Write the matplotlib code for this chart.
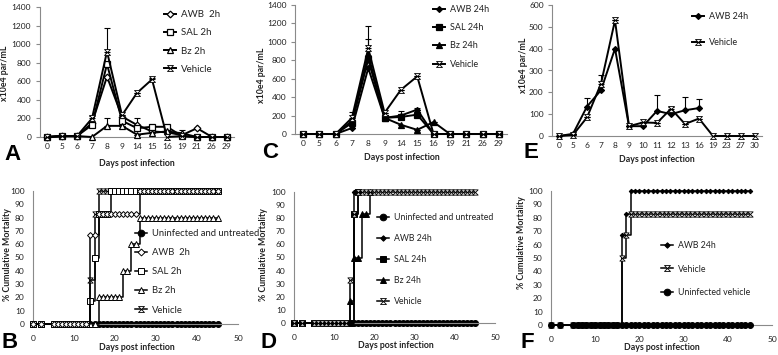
import numpy as np
import matplotlib
matplotlib.use('Agg')
import matplotlib.pyplot as plt
from matplotlib.lines import Line2D
from matplotlib.path import Path

W, H = 778, 355
plt.rcParams['font.family'] = ['Lato', 'DejaVu Sans']

# ---------------- data ----------------
cats_AC = ['0', '5', '6', '7', '8', '9', '14', '15', '16', '19', '21', '26', '29']
awb2h_A = [0, 10, 10, 150, 650, 220, 130, 60, 50, 20, 95, 0, 0]
awb2h_A_err = [0, 0, 0, 0, 0, 0, 70, 0, 0, 0, 0, 0, 0]
sal2h_A = [0, 10, 10, 130, 785, 175, 95, 110, 110, 10, 0, 0, 0]
sal2h_A_err = [0, 0, 0, 0, 0, 0, 0, 0, 0, 0, 0, 0, 0]
bz2h_A = [0, 10, 10, 0, 120, 120, 25, 45, 60, 40, 0, 0, 0]
bz2h_A_err = [0, 0, 0, 0, 85, 0, 0, 0, 0, 30, 0, 0, 0]
veh_A = [0, 10, 10, 200, 920, 235, 475, 620, 0, 10, 0, 0, 0]
veh_A_err = [0, 0, 0, 30, 250, 0, 0, 20, 0, 0, 0, 0, 0]

awb24h_C = [0, 0, 0, 65, 715, 175, 200, 265, 0, 0, 0, 0, 0]
awb24h_C_err = [0, 0, 0, 0, 0, 0, 0, 15, 0, 0, 0, 0, 0]
sal24h_C = [0, 0, 0, 120, 810, 175, 185, 210, 0, 0, 0, 0, 0]
sal24h_C_err = [0, 0, 0, 0, 0, 0, 60, 0, 0, 0, 0, 0, 0]
bz24h_C = [0, 0, 0, 140, 860, 175, 100, 45, 130, 0, 0, 0, 0]
bz24h_C_err = [0, 0, 0, 0, 170, 0, 0, 0, 0, 0, 0, 0, 0]
veh_C = [0, 0, 0, 175, 930, 230, 480, 625, 0, 0, 0, 0, 0]
veh_C_err = [0, 0, 0, 60, 240, 0, 0, 0, 0, 0, 0, 0, 0]

cats_E = ['0', '5', '6', '7', '8', '9', '10', '11', '12', '13', '16', '19', '23', '27', '30']
awb24h_E = [0, 10, 135, 210, 400, 45, 45, 115, 100, 118, 128]
awb24h_E_err = [0, 0, 40, 0, 0, 0, 0, 75, 0, 62, 40]
veh_E = [0, 5, 85, 240, 530, 45, 62, 60, 125, 55, 80, 0, 0, 0, 0]
veh_E_err = [0, 0, 0, 40, 0, 0, 0, 0, 10, 0, 0, 0, 0, 0, 0]

days = [0, 2, 5, 6, 7, 8, 9, 10, 11, 12, 13, 14, 15, 16, 17, 18, 19, 20, 21, 22, 23, 24,
        25, 26, 27, 28, 29, 30, 31, 32, 33, 34, 35, 36, 37, 38, 39, 40, 41, 42, 43, 44, 45]

uninf_B = [0] * 43
awb2h_B = [0, 0, 0, 0, 0, 0, 0, 0, 0, 0, 0, 67, 67, 83, 83, 83, 83, 83, 83, 83, 83, 83, 83,
           100, 100, 100, 100, 100, 100, 100, 100, 100, 100, 100, 100, 100, 100, 100, 100, 100, 100, 100, 100]
sal2h_B = [0, 0, 0, 0, 0, 0, 0, 0, 0, 0, 0, 17, 50, 83, 83, 83, 100, 100, 100, 100, 100, 100, 100,
           100, 100, 100, 100, 100, 100, 100, 100, 100, 100, 100, 100, 100, 100, 100, 100, 100, 100, 100, 100]
bz2h_B = [0, 0, 0, 0, 0, 0, 0, 0, 0, 0, 0, 0, 0, 20, 20, 20, 20, 20, 20, 40, 40, 60, 60,
          80, 80, 80, 80, 80, 80, 80, 80, 80, 80, 80, 80, 80, 80, 80, 80, 80, 80, 80, 80]
veh_B = [0, 0, 0, 0, 0, 0, 0, 0, 0, 0, 0, 33, 83, 100, 100, 100, 100, 100, 100, 100, 100, 100, 100,
         100, 100, 100, 100, 100, 100, 100, 100, 100, 100, 100, 100, 100, 100, 100, 100, 100, 100, 100, 100]

# treated groups in D: points shown until the group reaches 100 %
uninf_D = [0] * 43
awb24h_D = [0, 0, 0, 0, 0, 0, 0, 0, 0, 0, 0, 0, 100]
sal24h_D = [0, 0, 0, 0, 0, 0, 0, 0, 0, 0, 0, 0, 83, 100]
bz24h_D = [0, 0, 0, 0, 0, 0, 0, 0, 0, 0, 0, 17, 50, 50, 83, 83, 100]
veh_D = [0, 0, 0, 0, 0, 0, 0, 0, 0, 0, 0, 33, 83, 100, 100, 100, 100, 100, 100, 100, 100, 100, 100,
         100, 100, 100, 100, 100, 100, 100, 100, 100, 100, 100, 100, 100, 100, 100, 100, 100, 100, 100, 100]

awb24h_F = [0, 0, 0, 0, 0, 0, 0, 0, 0, 0, 0, 0, 0, 67, 83, 100, 100, 100, 100, 100, 100, 100, 100,
            100, 100, 100, 100, 100, 100, 100, 100, 100, 100, 100, 100, 100, 100, 100, 100, 100, 100, 100, 100]
veh_F = [0, 0, 0, 0, 0, 0, 0, 0, 0, 0, 0, 0, 0, 50, 67, 83, 83, 83, 83, 83, 83, 83, 83,
         83, 83, 83, 83, 83, 83, 83, 83, 83, 83, 83, 83, 83, 83, 83, 83, 83, 83, 83, 83]
uninf_F = [0] * 43

# ---------------- style helpers ----------------
SPINE = '#8a8a8a'
TXT = '#222222'
TICK_FS = 6
LAB_FS = 6.3

# Excel-like "X with bars" marker (hourglass outline, white filled)
veh_marker = Path([(-1, 1), (1, 1), (-1, -1), (1, -1), (-1, 1)],
                  [Path.MOVETO, Path.LINETO, Path.LINETO, Path.LINETO, Path.CLOSEPOLY])

fig = plt.figure(figsize=(W / 100, H / 100), dpi=100)


def add_axes(l, t, r, b):
    ax = fig.add_axes([l / W, 1 - b / H, (r - l) / W, (b - t) / H])
    for s in ['top', 'right']:
        ax.spines[s].set_visible(False)
    for s in ['left', 'bottom']:
        ax.spines[s].set_color(SPINE)
        ax.spines[s].set_linewidth(0.8)
    ax.set_facecolor('none')
    return ax


def ftext(x, y, s, **kw):
    fig.text(x / W, 1 - y / H, s, **kw)


def legend(ax, handles, labels, x, y, pitch, fs, handlelen_px, gap_px):
    fs_px = fs * 100 / 72
    leg = ax.legend(handles, labels, loc='upper left',
                    bbox_to_anchor=(x / W, 1 - y / H), bbox_transform=fig.transFigure,
                    frameon=False, fontsize=fs, borderpad=0, borderaxespad=0,
                    handlelength=handlelen_px / fs_px, handletextpad=gap_px / fs_px,
                    labelspacing=pitch / fs_px - 0.97)
    for t in leg.get_texts():
        t.set_color(TXT)
    return leg


def mew_for(mk, base):
    return 0.6 if mk is veh_marker else base


def top_panel(rect, cats, series, ymax, ystep, leg_xy, leg_pitch, leg_fs):
    ax = add_axes(*rect)
    x = np.arange(len(cats))
    handles = []
    labels = []
    for vals, errs, label, mk, ms, mfc in series:
        xx = x[:len(vals)]
        if any(e > 0 for e in errs):
            ax.errorbar(xx, vals, yerr=[np.zeros(len(errs)), errs], fmt='none',
                        ecolor='black', elinewidth=0.8, capsize=2, capthick=0.8, zorder=2)
        h, = ax.plot(xx, vals, color='black', lw=1.4, marker=mk, ms=ms, mfc=mfc,
                     mec='black', mew=mew_for(mk, 0.9), zorder=3, clip_on=False)
        handles.append(h)
        labels.append(label)
    ax.set_xlim(-0.5, len(cats) - 0.5)
    ax.set_ylim(0, ymax)
    ax.set_xticks(x)
    ax.set_xticklabels(cats)
    ax.set_yticks(np.arange(0, ymax + 1, ystep))
    ax.tick_params(axis='x', length=0, pad=4, labelsize=TICK_FS, labelcolor=TXT)
    ax.tick_params(axis='y', length=3, width=0.8, color=SPINE, pad=3, labelsize=TICK_FS, labelcolor=TXT)
    legend(ax, handles, labels, leg_xy[0], leg_xy[1], leg_pitch, leg_fs, 12, 5)
    return ax


def bottom_panel(rect, series, leg_xy, leg_pitch, leg_fs):
    ax = add_axes(*rect)
    handles = []
    labels = []
    for vals, label, mk, ms, mfc, z in series:
        h, = ax.plot(days[:len(vals)], vals, color='black', lw=1.1, drawstyle='steps-post',
                     marker=mk, ms=ms, mfc=mfc, mec='black', mew=mew_for(mk, 0.7),
                     clip_on=False, zorder=z)
        handles.append(h)
        labels.append(label)
    ax.set_xlim(0, 50)
    ax.set_ylim(0, 100)
    ax.set_xticks(np.arange(0, 51, 10))
    ax.set_yticks(np.arange(0, 101, 10))
    ax.tick_params(axis='x', length=0, pad=8, labelsize=TICK_FS, labelcolor=TXT)
    ax.tick_params(axis='y', length=0, pad=6, labelsize=TICK_FS, labelcolor=TXT)
    hs = []
    for h in handles:
        hh = Line2D([], [], color='black', lw=1.1, marker=h.get_marker(),
                    ms=h.get_markersize() + 0.5, mfc=h.get_markerfacecolor(),
                    mec='black', mew=h.get_markeredgewidth())
        hs.append(hh)
    legend(ax, hs, labels, leg_xy[0], leg_xy[1], leg_pitch, leg_fs, 12, 5)
    return ax


# ---------------- Panel A ----------------
top_panel((39.5, 7, 234.5, 137), cats_AC,
          [(awb2h_A, awb2h_A_err, 'AWB  2h', 'D', 3.4, 'white'),
           (sal2h_A, sal2h_A_err, 'SAL 2h', 's', 5, 'white'),
           (bz2h_A, bz2h_A_err, 'Bz 2h', '^', 5, 'white'),
           (veh_A, veh_A_err, 'Vehicle', veh_marker, 4.3, 'white')],
          1400, 200, (164, 10), 18.7, 7)

# ---------------- Panel C ----------------
top_panel((294.8, 5, 507, 134), cats_AC,
          [(awb24h_C, awb24h_C_err, 'AWB 24h', 'D', 3, 'black'),
           (sal24h_C, sal24h_C_err, 'SAL 24h', 's', 5, 'black'),
           (bz24h_C, bz24h_C_err, 'Bz 24h', '^', 5, 'black'),
           (veh_C, veh_C_err, 'Vehicle', veh_marker, 4.3, 'white')],
          1400, 200, (433, 5), 18, 6.5)

# ---------------- Panel E ----------------
top_panel((552, 5, 762, 136), cats_E,
          [(awb24h_E, awb24h_E_err, 'AWB 24h', 'D', 3, 'black'),
           (veh_E, veh_E_err, 'Vehicle', veh_marker, 4.3, 'white')],
          600, 100, (692, 12), 26, 6.5)

# ---------------- Panel B ----------------
bottom_panel((33, 191, 238, 324),
             [(uninf_B, 'Uninfected and untreated', 'o', 4.3, 'black', 2),
              (awb2h_B, 'AWB  2h', 'D', 3, 'white', 6),
              (sal2h_B, 'SAL 2h', 's', 4.3, 'white', 5),
              (bz2h_B, 'Bz 2h', '^', 4.3, 'white', 4),
              (veh_B, 'Vehicle', veh_marker, 3.8, 'white', 3)],
             (135, 229), 19.3, 6.8)

# ---------------- Panel D ----------------
bottom_panel((294, 192, 495, 323),
             [(uninf_D, 'Uninfected and untreated', 'o', 4.3, 'black', 2),
              (awb24h_D, 'AWB 24h', 'D', 2.3, 'black', 3),
              (sal24h_D, 'SAL 24h', 's', 4.3, 'black', 4),
              (bz24h_D, 'Bz 24h', '^', 4.3, 'black', 5),
              (veh_D, 'Vehicle', veh_marker, 3.8, 'white', 6)],
             (377, 213), 20.5, 6.3)

# ---------------- Panel F ----------------
bottom_panel((551, 191, 772, 325),
             [(awb24h_F, 'AWB 24h', 'D', 2.3, 'black', 3),
              (veh_F, 'Vehicle', veh_marker, 3.8, 'white', 4),
              (uninf_F, 'Uninfected vehicle', 'o', 4.3, 'black', 5)],
             (661, 241), 23, 6.3)

# ---------------- labels ----------------
for x, y, s in [(13, 155, 'A'), (270, 153, 'C'), (531, 152, 'E'),
                (10, 343, 'B'), (268, 343, 'D'), (527, 342, 'F')]:
    ftext(x, y, s, fontsize=16, fontweight='bold', family='Liberation Sans',
          ha='center', va='center', color='black')

for x, y in [(137, 163), (402, 157), (657, 159), (137, 347), (396, 346), (662, 348)]:
    ftext(x, y, 'Days post infection', fontsize=LAB_FS, fontweight='bold',
          ha='center', va='center', color=TXT)

for x, y, s in [(5, 73, 'x10e4 par/mL'), (262, 75, 'x10e4 par/mL'), (523, 65, 'x10e4 par/mL'),
                (8, 255, '% Cumulative Mortality'), (263, 255, '% Cumulative Mortality'),
                (521, 243, '% Cumulative Mortality')]:
    ftext(x, y, s, fontsize=LAB_FS, fontweight='bold', rotation=90,
          ha='center', va='center', color=TXT)

fig.savefig('out.png', dpi=100)
